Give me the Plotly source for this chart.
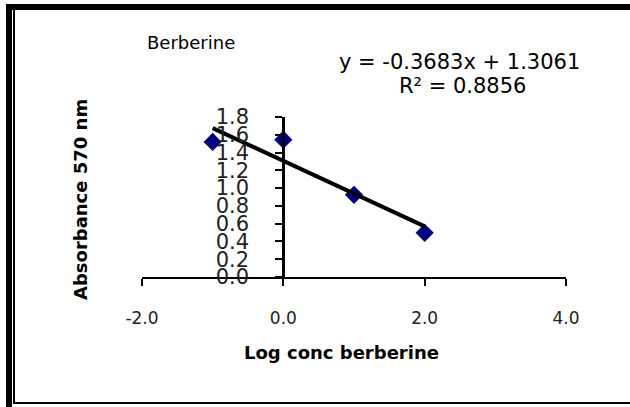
import plotly.graph_objects as go

# Data
log_conc = [-1.0, 0.0, 1.0, 2.0]
absorbance = [1.52, 1.545, 0.925, 0.497]
slope = -0.3683
intercept = 1.3061
r_squared = 0.8856
trend_x = [-1.0, 2.0]
x_tickvals = [-2, 0, 2, 4]
x_ticktext = ["-2.0", "0.0", "2.0", "4.0"]
y_tickvals = [0.0, 0.2, 0.4, 0.6, 0.8, 1.0, 1.2, 1.4, 1.6, 1.8]

W, H = 630, 407
L, R, T, B = 142, 64, 117, 130
PW, PH = W - L - R, H - T - B


def px(x):
    return (x - L) / PW


def py(y):
    return (H - B - y) / PH


trend_y = [slope * v + intercept for v in trend_x]

fig = go.Figure()
fig.add_trace(go.Scatter(
    x=log_conc, y=absorbance, mode="markers",
    marker=dict(symbol="diamond", size=14, color="#000080", line=dict(width=0)),
    showlegend=False,
))
fig.add_trace(go.Scatter(
    x=trend_x, y=trend_y, mode="lines",
    line=dict(color="black", width=4), showlegend=False,
))

fig.update_layout(
    width=W, height=H,
    margin=dict(l=L, r=R, t=T, b=B, autoexpand=False),
    paper_bgcolor="white", plot_bgcolor="white",
    xaxis=dict(
        range=[-2, 4], tickvals=x_tickvals, ticktext=x_ticktext,
        showgrid=False, zeroline=False, showline=True, linecolor="black", linewidth=2,
        ticks="outside", ticklen=7, tickwidth=2, tickcolor="black",
        tickfont=dict(family="DejaVu Sans", size=17, color="#222"),
        ticklabelstandoff=18,
    ),
    yaxis=dict(
        range=[0, 1.8], tickvals=y_tickvals, tickformat=".1f",
        anchor="free", position=1 / 3,
        showgrid=False, zeroline=False, showline=True, linecolor="black", linewidth=3,
        ticks="outside", ticklen=7, tickwidth=2, tickcolor="black",
        tickfont=dict(family="DejaVu Sans", size=21, color="#222"),
        ticklabelstandoff=22,
    ),
)

ann_font = dict(family="DejaVu Sans", color="black")
fig.add_annotation(x=px(145), y=py(42), xref="paper", yref="paper", xanchor="left", yanchor="middle",
                   text="Berberine", showarrow=False, font=dict(size=18, **ann_font))
fig.add_annotation(x=px(459), y=py(62), xref="paper", yref="paper", xanchor="center", yanchor="middle",
                   text=f"y = {slope:.4f}x + {intercept:.4f}", showarrow=False, font=dict(size=21, **ann_font))
fig.add_annotation(x=px(462), y=py(86), xref="paper", yref="paper", xanchor="center", yanchor="middle",
                   text=f"R² = {r_squared:.4f}", showarrow=False, font=dict(size=21, **ann_font))
fig.add_annotation(x=px(80), y=py(200), xref="paper", yref="paper", xanchor="center", yanchor="middle",
                   text="<b>Absorbance 570 nm</b>", textangle=-90, showarrow=False,
                   font=dict(size=18, **ann_font))
fig.add_annotation(x=px(341), y=py(352), xref="paper", yref="paper", xanchor="center", yanchor="middle",
                   text="<b>Log conc berberine</b>", showarrow=False, font=dict(size=18, **ann_font))

# Frame
frame = [
    (6, 4, 630, 10),
    (6, 4, 12, 407),
    (13, 10, 15, 404),
    (13, 402, 630, 404),
]
for x0, y0, x1, y1 in frame:
    fig.add_shape(type="rect", xref="paper", yref="paper",
                  x0=px(x0), x1=px(x1), y0=py(y0), y1=py(y1),
                  fillcolor="black", line=dict(width=0), layer="above")

fig.write_html("out.html", config={"displayModeBar": False},
               post_script="document.body.style.margin='0';document.body.style.overflow='hidden';")
